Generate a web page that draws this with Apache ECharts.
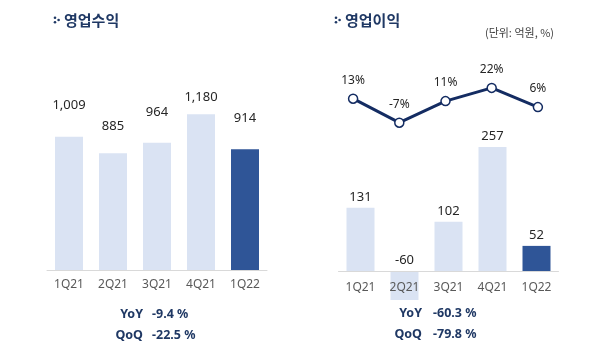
<!DOCTYPE html>
<html>
<head>
<meta charset="utf-8">
<script src="https://cdn.jsdelivr.net/npm/echarts@6/dist/echarts.min.js"></script>
<style>
  html, body { margin: 0; padding: 0; background: #ffffff; }
  #chart { width: 600px; height: 346px; }
</style>
</head>
<body>
<div id="chart"></div>
<script>
// Quarterly figures (unit: 억원, %)
const quarters = ['1Q21', '2Q21', '3Q21', '4Q21', '1Q22'];
const revenue = [1009, 885, 964, 1180, 914];          // 영업수익
const operatingProfit = [131, -60, 102, 257, 52];     // 영업이익
const operatingMargin = [13, -7, 11, 22, 6];          // 영업이익률 (%)
const revenueChange = [['YoY', '-9.4 %'], ['QoQ', '-22.5 %']];
const profitChange = [['YoY', '-60.3 %'], ['QoQ', '-79.8 %']];

// Presentation settings
const NAVY = '#1f3864';
const LINE_NAVY = '#142c62';
const LIGHT_BAR = '#dae3f3';
const DARK_BAR = '#2f5597';
const NUM_FONT = 'Noto Sans';
const KR_FONT = 'Noto Sans CJK KR';
const revenueLabelLift = [25, 20, 24, 10, 25];

const lastIdx = quarters.length - 1;
function barItems(values) {
  return values.map((v, i) => ({
    value: v,
    itemStyle: { color: i === lastIdx ? DARK_BAR : LIGHT_BAR }
  }));
}

function titleMark(x, y, text) {
  return [
    { type: 'circle', shape: { cx: x, cy: y - 2.2, r: 1.3 }, style: { fill: NAVY } },
    { type: 'circle', shape: { cx: x, cy: y + 2.2, r: 1.3 }, style: { fill: NAVY } },
    { type: 'circle', shape: { cx: x + 3.6, cy: y, r: 1.3 }, style: { fill: NAVY } },
    { type: 'text', x: x + 9, y: y, style: {
        text: text, fill: NAVY, font: 'bold 15px "' + KR_FONT + '"',
        textVerticalAlign: 'middle' } }
  ];
}

function changeRows(rows, xKey, xVal, y0) {
  const out = [];
  rows.forEach((r, i) => {
    const y = y0 + i * 21;
    out.push({ type: 'text', x: xKey, y: y, style: {
      text: r[0], fill: NAVY, font: 'bold 12.5px "' + NUM_FONT + '"',
      textAlign: 'right', textVerticalAlign: 'middle' } });
    out.push({ type: 'text', x: xVal, y: y, style: {
      text: r[1], fill: NAVY, font: 'bold 12.5px "' + NUM_FONT + '"',
      textAlign: 'left', textVerticalAlign: 'middle' } });
  });
  return out;
}

const catAxisCommon = {
  type: 'category',
  data: quarters,
  axisTick: { show: false },
  axisLine: { onZero: false, lineStyle: { color: '#d9d9d9', width: 1 } },
  axisLabel: { color: '#595959', fontSize: 12, fontFamily: NUM_FONT }
};
const hiddenValueAxis = {
  type: 'value',
  show: false,
  splitLine: { show: false }
};

const chart = echarts.init(document.getElementById('chart'), null, { renderer: 'canvas' });
chart.setOption({
  animation: false,
  backgroundColor: '#ffffff',
  grid: [
    { left: 47, width: 220, top: 72, height: 198 },
    // bar grid's bottom edge sits on the zero line; the negative bar hangs below it
    { left: 338.5, width: 220, top: 58.5, height: 212.5 },
    { left: 330, width: 231, top: 84.3, height: 42 }
  ],
  xAxis: [
    Object.assign({}, catAxisCommon, { gridIndex: 0,
      axisLabel: Object.assign({}, catAxisCommon.axisLabel, { margin: 9 }) }),
    Object.assign({}, catAxisCommon, { gridIndex: 1, z: 5,
      axisLabel: Object.assign({}, catAxisCommon.axisLabel, { margin: 11 }) }),
    { type: 'category', gridIndex: 2, data: quarters, show: false }
  ],
  yAxis: [
    Object.assign({}, hiddenValueAxis, { gridIndex: 0, min: 0, max: 1500 }),
    Object.assign({}, hiddenValueAxis, { gridIndex: 1, min: 0, max: 440 }),
    Object.assign({}, hiddenValueAxis, { gridIndex: 2, min: -10, max: 25 })
  ],
  series: [
    {
      type: 'bar',
      xAxisIndex: 0, yAxisIndex: 0,
      barWidth: 28,
      data: barItems(revenue).map((d, i) => Object.assign(d, {
        label: { distance: revenueLabelLift[i] }
      })),
      label: {
        show: true, position: 'top',
        color: '#262626', fontSize: 13, fontFamily: NUM_FONT,
        formatter: p => p.value.toLocaleString('en-US')
      }
    },
    {
      type: 'bar',
      xAxisIndex: 1, yAxisIndex: 1,
      barWidth: 28,
      clip: false,
      data: barItems(operatingProfit),
      label: {
        show: true, position: 'top', distance: 4,
        color: '#262626', fontSize: 13, fontFamily: NUM_FONT,
        formatter: p => String(p.value)
      }
    },
    {
      type: 'line',
      xAxisIndex: 2, yAxisIndex: 2,
      data: operatingMargin,
      symbol: 'circle',
      symbolSize: 9,
      lineStyle: { color: LINE_NAVY, width: 3 },
      itemStyle: { color: '#ffffff', borderColor: LINE_NAVY, borderWidth: 1.5 },
      label: {
        show: true, position: 'top', distance: 7,
        color: '#262626', fontSize: 12, fontFamily: NUM_FONT,
        formatter: p => p.value + '%'
      },
      z: 4
    }
  ],
  graphic: [].concat(
    titleMark(55, 20, '영업수익'),
    titleMark(336, 20, '영업이익'),
    [{ type: 'text', x: 554, y: 33, style: {
        text: '(단위: 억원, %)', fill: '#404040', font: '11px "' + KR_FONT + '"',
        textAlign: 'right', textVerticalAlign: 'middle' } }],
    changeRows(revenueChange, 143, 152, 314),
    changeRows(profitChange, 422, 433, 313)
  )
});
</script>
</body>
</html>
